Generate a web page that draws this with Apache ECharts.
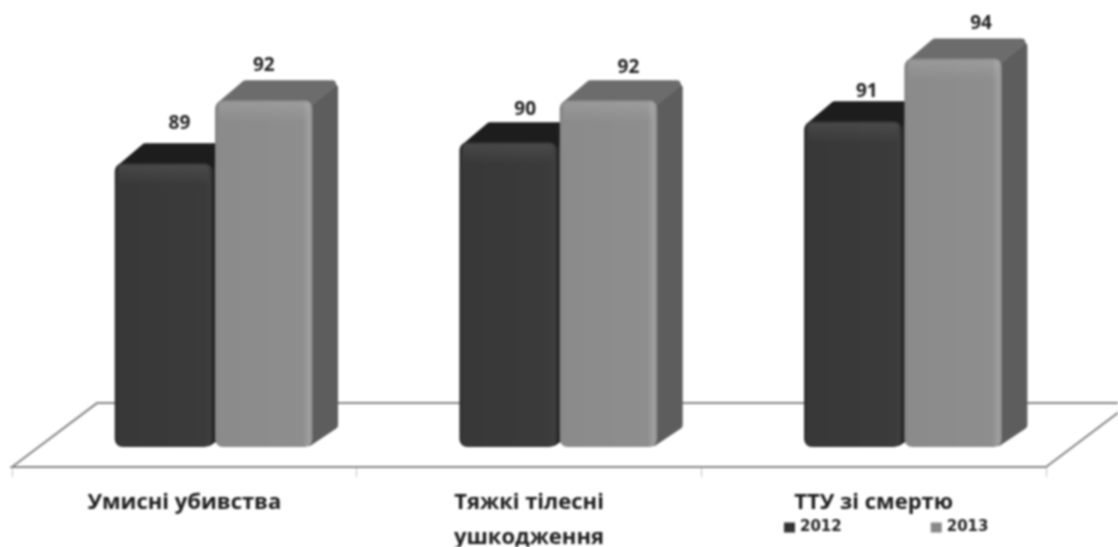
<!DOCTYPE html>
<html><head><meta charset="utf-8">
<style>html,body{margin:0;padding:0;background:#fff}#c{width:1118px;height:547px;filter:blur(.8px)}</style>
<script src="https://cdn.jsdelivr.net/npm/echarts@6/dist/echarts.min.js"></script>
</head><body><div id="c"></div>
<script>
const categories = ['Умисні убивства', 'Тяжкі тілесні\nушкодження', 'ТТУ зі смертю'];
const years = ['2012', '2013'];
const values2012 = [89, 90, 91];
const values2013 = [92, 92, 94];

// layout of the drawn pseudo-3D scene
const axisMin = 74.5, axisMax = 95.5, baseValue = 75.45, floorBackValue = 77.55;
const nudge2012 = [[16, -40], [17, -33], [14, -30]];
const nudge2013 = [[0, -35], [20, -33], [28, -35]];
const barFrac = 0.283, gapFrac = 0.004, shiftFrac = 0.085, depthFrac = 0.074, riseFrac = 0.058;

function grad(stops, vertical) {
  return new echarts.graphic.LinearGradient(0, 0, vertical ? 0 : 1, vertical ? 1 : 0,
    stops.map(s => ({ offset: s[0], color: s[1] })));
}
const looks = [
  { front: grad([[0,'#2b2b2b'],[.04,'#383838'],[.93,'#3b3b3b'],[.98,'#3f3f3f'],[1,'#2e2e2e']]), top: '#1d1d1d', side: '#262626',
    sheen: grad([[0,'rgba(255,255,255,.08)'],[1,'rgba(255,255,255,0)']], true) },
  { front: grad([[0,'#828282'],[.04,'#8b8b8b'],[.9,'#8e8e8e'],[.97,'#a0a0a0'],[1,'#8a8a8a']]), top: '#6c6c6c', side: '#5d5d5d',
    sheen: grad([[0,'rgba(255,255,255,.12)'],[1,'rgba(255,255,255,0)']], true) }
];

function barSeries(name, values, idx, nudge, color) {
  return {
    name, type: 'custom', coordinateSystem: 'cartesian2d', z: 3 + idx,
    data: values.map((v, i) => [i, v]), encode: { x: 0, y: 1 }, clip: false,
    itemStyle: { color },
    renderItem(params, api) {
      const i = api.value(0), v = api.value(1);
      const band = api.size([1, 0])[0];
      const w = band * barFrac, d = band * depthFrac, r = band * riseFrac;
      const c = api.coord([i, v]);
      const top = c[1], base = api.coord([i, baseValue])[1];
      const mid = c[0] + band * shiftFrac;
      const x0 = idx === 0 ? mid - w - band * gapFrac : mid + band * gapFrac;
      const x1 = x0 + w, L = looks[idx], h = base - top;
      const n = nudge[params.dataIndex];
      const sp = (pts, fill) => ({ type: 'polygon', shape: { points: pts },
        style: { fill, stroke: fill, lineWidth: 8, lineJoin: 'round' } });
      return { type: 'group', children: [
        sp([[x1 - 4, base - 5], [x1 + d - 4, base - r - 2], [x1 + d - 4, top - r + 8], [x1 - 4, top + 5]], L.side),
        sp([[x0 + 7, top + 4], [x0 + d + 5, top - r + 4], [x1 + d - 6, top - r + 4], [x1 - 5, top + 4]], L.top),
        { type: 'rect', shape: { x: x0, y: top, width: w, height: h, r: 8 }, style: { fill: L.front } },
        { type: 'rect', shape: { x: x0 + 4, y: top + 2, width: w - 8, height: 20, r: 4 }, style: { fill: L.sheen } },
        { type: 'text', style: { text: String(v), x: (x0 + x1) / 2 + n[0], y: top + n[1],
          align: 'center', verticalAlign: 'middle', fill: '#222',
          font: 'bold 19px "Open Sans"' } }
      ] };
    }
  };
}

const floorSeries = {
  type: 'custom', coordinateSystem: 'cartesian2d', z: 1, silent: true, clip: false,
  data: [[0, floorBackValue]], encode: { x: 0, y: 1 },
  renderItem(params, api) {
    const cs = params.coordSys;
    const backY = api.coord([0, floorBackValue])[1], frontY = api.coord([0, axisMin])[1];
    const off = cs.width * 0.0822;
    return { type: 'polygon', shape: { points: [
      [cs.x, frontY], [cs.x + off, backY], [cs.x + cs.width + off, backY], [cs.x + cs.width, frontY]
    ] }, style: { fill: '#fff', stroke: '#858585', lineWidth: 2 } };
  }
};

const chart = echarts.init(document.getElementById('c'), null, { renderer: 'canvas' });
chart.setOption({
  animation: false,
  backgroundColor: '#fff',
  grid: { left: 12, width: 1034, top: 27, height: 440, containLabel: false, outerBoundsMode: 'none' },
  legend: {
    data: years, left: 779, top: 515, itemWidth: 11, itemHeight: 10, itemGap: 89,
    icon: 'rect', textStyle: { fontFamily: 'DejaVu Sans', fontWeight: 'bold', fontSize: 15, color: '#222' }
  },
  xAxis: {
    type: 'category', data: categories, boundaryGap: true,
    axisLine: { lineStyle: { color: '#858585', width: 2 } },
    axisTick: { show: true, length: 10, alignWithLabel: false, lineStyle: { color: '#c4c4c4' } },
    axisLabel: { margin: 18, interval: 0, color: '#1c1c1c', fontFamily: 'Open Sans', fontWeight: 'bold', fontSize: 22, lineHeight: 35, hideOverlap: false }
  },
  yAxis: { type: 'value', min: axisMin, max: axisMax, show: false, splitLine: { show: false } },
  series: [
    floorSeries,
    barSeries(years[0], values2012, 0, nudge2012, '#333333'),
    barSeries(years[1], values2013, 1, nudge2013, '#888888')
  ]
});
</script></body></html>
